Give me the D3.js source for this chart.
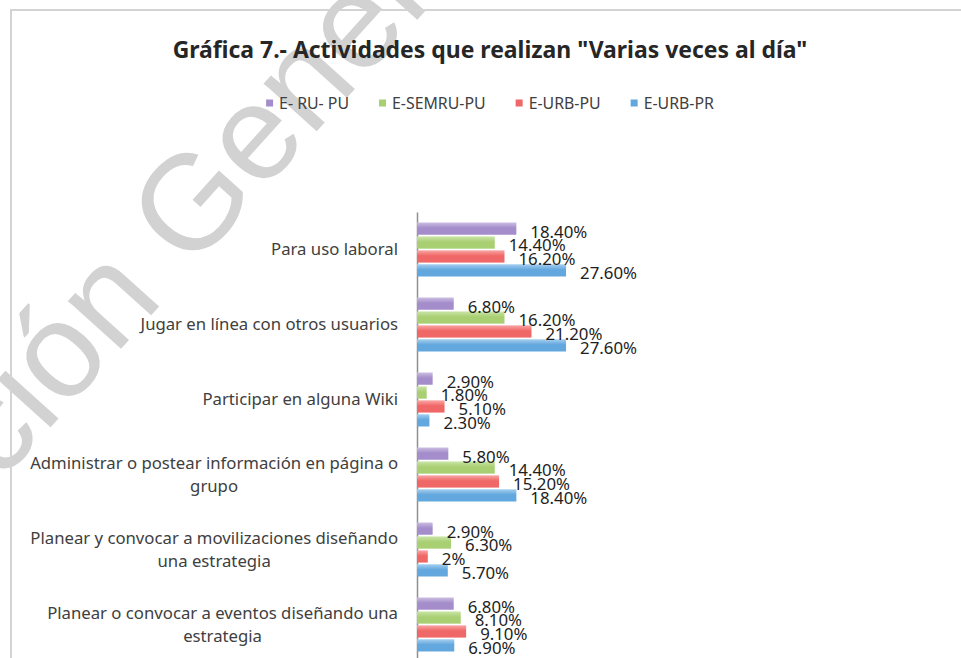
<!DOCTYPE html>
<html>
<head>
<meta charset="utf-8">
<script src="https://cdn.jsdelivr.net/npm/d3@7"></script>
<style>
body { margin: 0; background: #fff; }
svg { display: block; }
</style>
</head>
<body>
<div id="chart"></div>
<script>
// Data
var categories = ["Para uso laboral",
    "Jugar en línea con otros usuarios",
    "Participar en alguna Wiki",
    "Administrar o postear información en página o grupo",
    "Planear y convocar a movilizaciones diseñando una estrategia",
    "Planear o convocar a eventos diseñando una estrategia"];
var seriesNames = ["E- RU- PU", "E-SEMRU-PU", "E-URB-PU", "E-URB-PR"];
var ruPu = [18.4, 6.8, 2.9, 5.8, 2.9, 6.8];
var semruPu = [14.4, 16.2, 1.8, 14.4, 6.3, 8.1];
var urbPu = [16.2, 21.2, 5.1, 15.2, 2, 9.1];
var urbPr = [27.6, 27.6, 2.3, 18.4, 5.7, 6.9];
var seriesValues = [ruPu, semruPu, urbPu, urbPr];

var colors = ["#a48dca", "#a9cf73", "#ef6766", "#62a7dd"];
var lightColors = ["#cbbde3", "#cbe5a8", "#f8a6a5", "#a7cff0"];

var width = 961, height = 658;
var font = "'Noto Sans', 'Open Sans', sans-serif";

var svg = d3.select("#chart")
    .append("svg")
    .attr("width", width)
    .attr("height", height);

// font size so a string gets a given width
function fitSize(txt, target, weight) {
    var t = svg.append("text")
        .attr("font-family", font)
        .attr("font-size", 100)
        .attr("font-weight", weight || "normal")
        .text(txt);
    var w = t.node().getComputedTextLength();
    t.remove();
    return 100 * target / w;
}
function textWidth(txt, size, weight, fam) {
    var t = svg.append("text")
        .attr("font-family", fam || font)
        .attr("font-size", size)
        .attr("font-weight", weight || "normal")
        .text(txt);
    var w = t.node().getComputedTextLength();
    t.remove();
    return w;
}

// watermark
var wmFont = "'Liberation Sans', Arial, sans-serif";
var wmSize = 135;
var wmPrefix = textWidth("Dirección ", wmSize, "normal", wmFont);
svg.append("text")
    .attr("transform", "translate(165,300) rotate(-48)")
    .attr("x", -wmPrefix)
    .attr("font-family", wmFont)
    .attr("font-size", wmSize)
    .attr("fill", "#d2d2d2")
    .text("Dirección General");

// frame
svg.append("rect")
    .attr("x", 11)
    .attr("y", 10)
    .attr("width", 990)
    .attr("height", 700)
    .attr("fill", "none")
    .style("stroke", "#d3d3d3")
    .style("stroke-width", 2);

// title
var titleText = "Gráfica 7.- Actividades que realizan \"Varias veces al día\"";
svg.append("text")
    .attr("x", 490)
    .attr("y", 58)
    .attr("text-anchor", "middle")
    .attr("font-family", font)
    .attr("font-weight", "bold")
    .attr("font-size", fitSize(titleText, 635, "bold"))
    .attr("fill", "#262626")
    .text(titleText);

// gradients
var defs = svg.append("defs");
seriesNames.forEach(function(s, i) {
    var g = defs.append("linearGradient")
        .attr("id", "grad" + i)
        .attr("x1", 0).attr("y1", 0).attr("x2", 0).attr("y2", 1);
    g.append("stop").attr("offset", "0%").attr("stop-color", lightColors[i]);
    g.append("stop").attr("offset", "45%").attr("stop-color", colors[i]);
    g.append("stop").attr("offset", "100%").attr("stop-color", colors[i]);
});

// legend
var legSize = fitSize("E- RU- PU", 70);
var legWidths = seriesNames.map(function(s) { return textWidth(s, legSize); });
var mark = 7, markGap = 6, itemGap = 30;
var legTotal = d3.sum(legWidths) + seriesNames.length * (mark + markGap) + (seriesNames.length - 1) * itemGap;
var legX = 490 - legTotal / 2;
var legPos = [];
legWidths.forEach(function(w) { legPos.push(legX); legX += mark + markGap + w + itemGap; });
var legend = svg.selectAll("g.leg")
    .data(seriesNames)
    .enter()
    .append("g")
    .attr("class", "leg")
    .attr("transform", function(d, i) { return "translate(" + legPos[i] + ",103)"; });
legend.append("rect")
    .attr("x", 0)
    .attr("y", -mark / 2)
    .attr("width", mark)
    .attr("height", mark)
    .attr("fill", function(d, i) { return colors[i]; });
legend.append("text")
    .attr("x", mark + markGap)
    .attr("dy", "0.35em")
    .attr("font-family", font)
    .attr("font-size", legSize)
    .attr("fill", "#404040")
    .text(function(d) { return d; });

// scales
var x = d3.scaleLinear().domain([0, 30]).range([417, 579]);
var y0 = d3.scaleBand()
    .domain(categories)
    .range([212, 662])
    .paddingInner(0.28)
    .paddingOuter(0.14);
var y1 = d3.scaleBand()
    .domain(d3.range(seriesNames.length))
    .range([0, y0.bandwidth()])
    .paddingInner(0.12);

// axis
var axis = svg.append("g")
    .attr("transform", "translate(417,0)")
    .call(d3.axisLeft(y0).tickSize(0).tickFormat(""));
axis.select(".domain").attr("stroke", "#8f8f8f").attr("stroke-width", 1.5);

// category labels
var catSize = fitSize("Administrar o postear información en página o", 368);
function wrap(txt, maxW) {
    var words = txt.split(" "), lines = [], line = "";
    words.forEach(function(w) {
        var test = line ? line + " " + w : w;
        if (line && textWidth(test, catSize) > maxW) { lines.push(line); line = w; }
        else line = test;
    });
    lines.push(line);
    return lines;
}
var lineH = 23;
categories.forEach(function(c) {
    var lines = wrap(c, 385);
    var maxW = d3.max(lines, function(l) { return textWidth(l, catSize); });
    var cx = 398 - maxW / 2;
    var cy = y0(c) + y0.bandwidth() / 2;
    svg.append("text")
        .attr("text-anchor", "middle")
        .attr("font-family", font)
        .attr("font-size", catSize)
        .attr("fill", "#404040")
        .selectAll("tspan")
        .data(lines)
        .enter()
        .append("tspan")
        .attr("x", cx)
        .attr("y", function(d, i) { return cy + (i - (lines.length - 1) / 2) * lineH; })
        .attr("dy", "0.35em")
        .text(function(d) { return d; });
});

// bars
var cells = [];
categories.forEach(function(c, ci) {
    seriesValues.forEach(function(vals, si) {
        cells.push({cat: c, s: si, v: vals[ci]});
    });
});
svg.selectAll("rect.bar")
    .data(cells)
    .enter()
    .append("rect")
    .attr("class", "bar")
    .attr("x", x(0))
    .attr("y", function(d) { return y0(d.cat) + y1(d.s); })
    .attr("width", function(d) { return x(d.v) - x(0); })
    .attr("height", y1.bandwidth())
    .attr("fill", function(d) { return "url(#grad" + d.s + ")"; });

// value labels
function fmt(v) { return (v % 1 === 0 ? v : v.toFixed(2)) + "%"; }
var valSize = fitSize("18.40%", 57);
svg.selectAll("text.val")
    .data(cells)
    .enter()
    .append("text")
    .attr("class", "val")
    .attr("x", function(d) { return x(d.v) + 14; })
    .attr("y", function(d) { return y0(d.cat) + y1(d.s) + y1.bandwidth() / 2 + 3; })
    .attr("dy", "0.35em")
    .attr("font-family", font)
    .attr("font-size", valSize)
    .attr("fill", "#1e1e1e")
    .text(function(d) { return fmt(d.v); });
</script>
</body>
</html>
